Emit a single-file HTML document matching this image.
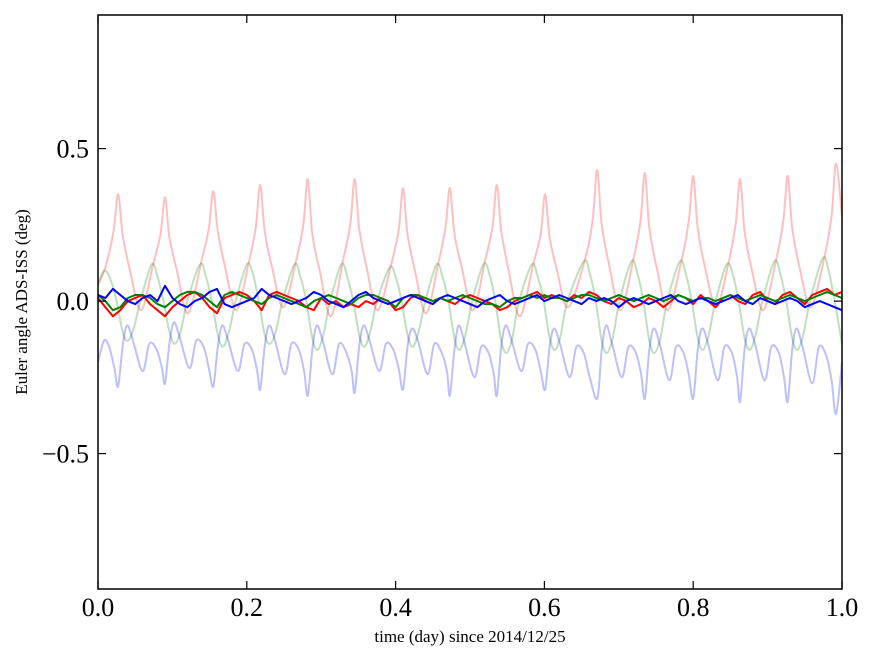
<!DOCTYPE html>
<html><head><meta charset="utf-8"><style>
html,body{margin:0;padding:0;background:#fff;width:875px;height:662px;overflow:hidden}
svg text{font-family:"Liberation Serif",serif;fill:#000}
</style></head><body>
<svg id="chart" width="875" height="662" xmlns="http://www.w3.org/2000/svg">
<rect x="0" y="0" width="875" height="662" fill="#fff"/>
<g id="series"></g>
<g id="axes"></g>
<text x="470" y="642" font-size="17" text-anchor="middle">time (day) since 2014/12/25</text>
<text transform="translate(27,302) rotate(-90)" font-size="17" text-anchor="middle">Euler angle ADS-ISS (deg)</text>
</svg>
<script>
const xTicks=[0,0.2,0.4,0.6,0.8,1.0];
const xTickLabels=["0.0","0.2","0.4","0.6","0.8","1.0"];
const yTicks=[-0.5,0,0.5];
const yTickLabels=["\u22120.5","0.0","0.5"];
const redFadedT=[0,.011,.021,.027,.033,.043,.058,.074,.084,.090,.096,.106,.121,.139,.149,.155,.161,.171,.186,.202,.212,.218,.224,.234,.249,.266,.276,.282,.288,.298,.313,.329,.339,.345,.351,.361,.376,.394,.404,.410,.416,.426,.441,.457,.467,.473,.479,.489,.504,.520,.530,.536,.542,.552,.567,.585,.595,.601,.607,.617,.632,.655,.665,.671,.677,.687,.702,.719,.729,.735,.741,.751,.766,.784,.794,.800,.806,.816,.831,.847,.857,.863,.869,.879,.894,.911,.921,.927,.933,.943,.958,.976,.986,.992,1.0];
const redFadedV=[.05,.12,.23,.35,.22,.10,-.03,.12,.22,.34,.21,.10,-.04,.13,.24,.36,.23,.11,-.03,.12,.24,.38,.23,.11,-.02,.13,.25,.40,.22,.10,-.05,.13,.25,.40,.24,.11,-.03,.12,.23,.37,.22,.10,-.04,.12,.24,.37,.22,.11,-.03,.13,.24,.38,.23,.10,-.05,.12,.22,.35,.21,.10,-.02,.14,.27,.43,.25,.12,-.03,.13,.26,.42,.24,.11,-.03,.13,.26,.41,.24,.11,-.02,.12,.25,.40,.23,.10,-.03,.13,.26,.41,.24,.11,-.02,.14,.28,.45,.28];
const greenFadedT=[0,.009,.017,.025,.033,.040,.048,.057,.072,.080,.088,.096,.103,.111,.120,.137,.145,.153,.161,.168,.176,.185,.200,.208,.216,.224,.231,.239,.248,.264,.272,.280,.288,.295,.303,.312,.327,.335,.343,.351,.358,.366,.375,.392,.400,.408,.416,.423,.431,.440,.455,.463,.471,.479,.486,.494,.503,.518,.526,.534,.542,.549,.557,.566,.583,.591,.599,.607,.614,.622,.631,.653,.661,.669,.677,.684,.692,.701,.717,.725,.733,.741,.748,.756,.765,.782,.790,.798,.806,.813,.821,.830,.845,.853,.861,.869,.876,.884,.893,.909,.917,.925,.933,.940,.948,.957,.974,.982,.990,1.0];
const greenFadedV=[.06,.10,.07,0,-.10,-.13,-.09,0,.12,.08,0,-.10,-.14,-.10,0,.12,.08,0,-.11,-.15,-.10,0,.12,.09,0,-.11,-.14,-.10,0,.12,.08,0,-.12,-.16,-.11,0,.12,.08,0,-.11,-.15,-.10,0,.11,.08,0,-.11,-.15,-.10,0,.12,.08,0,-.12,-.16,-.11,0,.12,.09,0,-.13,-.17,-.12,0,.12,.08,0,-.12,-.16,-.11,0,.13,.09,0,-.13,-.17,-.12,0,.13,.09,0,-.13,-.17,-.12,0,.13,.09,0,-.12,-.16,-.11,0,.12,.09,0,-.12,-.16,-.11,0,.13,.09,0,-.12,-.16,-.11,0,.14,.10,0,-.14];
const blueFadedT=[0,.008,.015,.022,.027,.033,.039,.047,.060,.069,.079,.086,.090,.096,.102,.110,.123,.132,.142,.149,.155,.161,.167,.175,.188,.197,.207,.214,.218,.224,.230,.238,.251,.260,.270,.277,.282,.288,.294,.302,.315,.324,.334,.341,.345,.351,.357,.365,.378,.387,.397,.404,.410,.416,.422,.430,.443,.452,.462,.469,.473,.479,.485,.493,.506,.515,.525,.532,.536,.542,.548,.556,.569,.578,.588,.595,.601,.607,.613,.621,.634,.643,.653,.660,.671,.677,.683,.691,.704,.713,.723,.730,.735,.741,.747,.755,.768,.777,.787,.794,.800,.806,.812,.820,.833,.842,.852,.859,.863,.869,.875,.883,.896,.905,.915,.922,.927,.933,.939,.947,.960,.969,.979,.986,.992,1.0];
const blueFadedV=[-.20,-.13,-.15,-.22,-.28,-.15,-.08,-.13,-.23,-.14,-.16,-.22,-.27,-.14,-.07,-.12,-.22,-.13,-.15,-.22,-.28,-.15,-.08,-.13,-.23,-.14,-.16,-.23,-.29,-.15,-.08,-.13,-.24,-.14,-.16,-.23,-.31,-.16,-.08,-.13,-.24,-.14,-.17,-.23,-.30,-.15,-.08,-.13,-.23,-.14,-.16,-.22,-.29,-.15,-.09,-.13,-.24,-.14,-.17,-.23,-.31,-.16,-.08,-.14,-.25,-.15,-.17,-.24,-.31,-.15,-.08,-.13,-.23,-.14,-.16,-.23,-.29,-.15,-.09,-.14,-.25,-.15,-.17,-.24,-.32,-.16,-.08,-.14,-.25,-.15,-.17,-.24,-.32,-.16,-.09,-.14,-.26,-.15,-.17,-.24,-.32,-.16,-.09,-.14,-.26,-.15,-.17,-.25,-.33,-.16,-.09,-.14,-.26,-.15,-.17,-.25,-.33,-.16,-.09,-.15,-.27,-.15,-.18,-.26,-.37,-.20];
const redSolid=[.01,-.02,-.05,-.03,0,.01,.02,-.01,-.03,-.05,-.02,0,.02,.03,.01,-.02,-.04,.01,.02,.03,.02,0,-.03,.02,.03,.02,.01,0,-.02,-.03,.01,-.01,0,-.02,-.01,-.02,0,-.01,.01,0,-.03,-.02,.01,.02,0,-.01,.01,0,-.01,.01,.02,.01,0,-.01,-.03,-.02,0,.01,.02,.03,.01,.02,.01,0,.02,.01,.03,.02,0,-.01,.01,0,-.02,-.01,.01,0,-.02,0,.02,.01,-.01,.02,0,-.02,.01,.02,0,-.01,.02,.03,0,-.01,.02,.03,.01,-.01,.02,.03,.04,.02,.03];
const greenSolid=[.02,0,-.03,-.02,.01,.02,.02,.01,-.01,-.02,0,.02,.03,.03,.02,0,-.02,.02,.03,.02,.01,0,-.01,.01,.02,.01,0,-.01,-.02,0,.01,.02,.01,0,-.01,.01,.02,.02,.01,0,-.02,.01,.02,.02,.01,0,.01,0,.01,.02,.01,0,-.01,-.01,-.02,0,.01,.01,.02,.01,.02,.01,.01,0,.01,.02,.02,.01,0,.01,.02,.01,0,.01,.02,.01,0,.01,.02,.01,0,.01,.01,0,.01,.02,.01,0,.01,.02,.01,0,.01,.02,.01,0,.01,.02,.03,.02,.01];
const blueSolid=[.02,.01,.04,.02,.0,-.01,.01,.02,.0,.05,.01,-.01,-.02,0,.01,.03,.04,-.01,-.02,-.01,0,.01,.04,.02,.01,0,-.01,0,.01,.03,.02,0,-.01,-.02,0,.02,.03,.01,0,-.01,0,.01,.02,.01,0,-.01,.01,.02,.01,0,-.01,-.02,0,.01,.02,0,-.01,0,.01,.02,0,.01,.02,.01,0,-.01,.01,0,.01,0,-.02,0,.01,.0,-.01,0,.01,.02,0,-.01,0,.01,0,-.01,0,.01,.02,0,-.01,.01,0,-.01,0,.01,0,-.02,-.01,0,-.01,-.02,-.03];

const L=98,R=842,T=15,B=589,YMIN=-0.944,YMAX=0.938;
const xs=v=>L+(v-0)/(1-0)*(R-L);
const ys=v=>B-(v-YMIN)/(YMAX-YMIN)*(B-T);
const NS='http://www.w3.org/2000/svg';
const sg=document.getElementById('series'), ag=document.getElementById('axes');
function linePath(t,v){return t.map((ti,i)=>(i?'L':'M')+xs(ti).toFixed(1)+','+ys(v[i]).toFixed(1)).join('');}
function smoothPath(t,v){
  const p=t.map((ti,i)=>[xs(ti),ys(v[i])]);
  let d='M'+p[0][0].toFixed(1)+','+p[0][1].toFixed(1);
  for(let i=0;i<p.length-1;i++){
    const p0=p[Math.max(0,i-1)],p1=p[i],p2=p[i+1],p3=p[Math.min(p.length-1,i+2)];
    const c1=[p1[0]+(p2[0]-p0[0])/6,p1[1]+(p2[1]-p0[1])/6];
    const c2=[p2[0]-(p3[0]-p1[0])/6,p2[1]-(p3[1]-p1[1])/6];
    d+='C'+c1[0].toFixed(1)+','+c1[1].toFixed(1)+' '+c2[0].toFixed(1)+','+c2[1].toFixed(1)+' '+p2[0].toFixed(1)+','+p2[1].toFixed(1);
  }
  return d;
}
function idxT(arr){return arr.map((_,i)=>i/(arr.length-1));}
function addPath(d,color,op,name){
  const el=document.createElementNS(NS,'path');
  el.setAttribute('d',d);el.setAttribute('fill','none');el.setAttribute('stroke',color);
  el.setAttribute('stroke-width','2');el.setAttribute('stroke-opacity',op);el.setAttribute('stroke-linejoin','round');
  
  
  sg.appendChild(el);
}
addPath(smoothPath(redFadedT,redFadedV),'#ff0000',0.25,'red-faded-line');
addPath(smoothPath(greenFadedT,greenFadedV),'#008000',0.25,'green-faded-line');
addPath(smoothPath(blueFadedT,blueFadedV),'#0000ff',0.25,'blue-faded-line');
addPath(linePath(idxT(redSolid),redSolid),'#ff0000',1,'red-line');
addPath(linePath(idxT(greenSolid),greenSolid),'#008000',1,'green-line');
addPath(linePath(idxT(blueSolid),blueSolid),'#0000ff',1,'blue-line');

const frame=document.createElementNS(NS,'rect');
frame.setAttribute('x',L);frame.setAttribute('y',T);frame.setAttribute('width',R-L);frame.setAttribute('height',B-T);
frame.setAttribute('fill','none');frame.setAttribute('stroke','#000');frame.setAttribute('stroke-width','1.5');


ag.appendChild(frame);
function addLine(x1,y1,x2,y2,name){
  const l=document.createElementNS(NS,'line');
  l.setAttribute('x1',x1);l.setAttribute('y1',y1);l.setAttribute('x2',x2);l.setAttribute('y2',y2);
  l.setAttribute('stroke','#000');l.setAttribute('stroke-width','1.2');
  
  
  ag.appendChild(l);
}
function addText(x,y,s,anchor,name){
  const t=document.createElementNS(NS,'text');
  t.setAttribute('x',x);t.setAttribute('y',y);t.setAttribute('font-size','26');t.setAttribute('text-anchor',anchor);
  t.textContent=s;
  
  
  ag.appendChild(t);
}
xTicks.forEach((v,i)=>{
  const x=xs(v);
  addLine(x,B,x,B-8,'x-tick');
  addLine(x,T,x,T+8,'x-tick-top');
  addText(x,B+27,xTickLabels[i],'middle','x-tick-label');
});
yTicks.forEach((v,i)=>{
  const y=ys(v);
  addLine(L,y,L+8,y,'y-tick');
  addLine(R,y,R-8,y,'y-tick-right');
  addText(L-9,y+9,yTickLabels[i],'end','y-tick-label');
});
</script>
</body></html>
